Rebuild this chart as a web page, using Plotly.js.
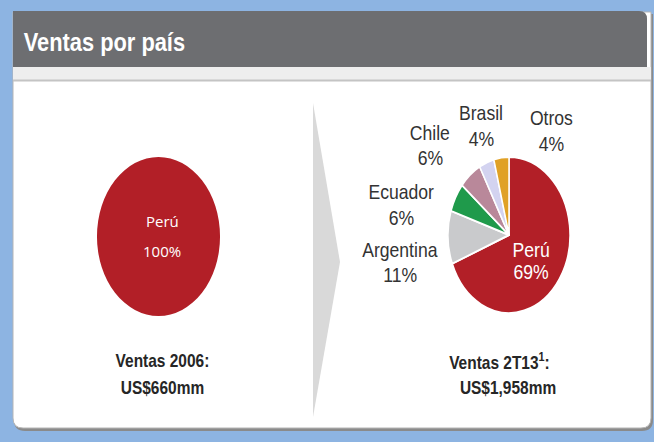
<!DOCTYPE html>
<html>
<head>
<meta charset="utf-8">
<script src="https://cdn.plot.ly/plotly-3.0.1.min.js"></script>
<style>html,body{margin:0;padding:0;background:#8db4e2;}#chart{width:654px;height:442px;}</style>
</head>
<body>
<div id="chart"></div>
<script>
// ---- data ----
const chartTitle = 'Ventas por país';
const countries2006 = ['Perú'];
const share2006 = [100];
const countries2T13 = ['Perú', 'Argentina', 'Ecuador', 'Chile', 'Brasil', 'Otros'];
const share2T13 = [69, 11, 6, 6, 4, 4];
const caption2006 = ['Ventas 2006:', 'US$660mm'];
const caption2T13 = ['Ventas 2T13<sup>1</sup>:', 'US$1,958mm'];

// ---- style ----
const sliceColors = ['#b21f27', '#c9cacc', '#1f9a4b', '#b9889a', '#d3d3f0', '#e0a126'];
const labelFont = 'Liberation Sans, Arial, sans-serif';
const W = 654, H = 442;
function px(x) { return x / W; }
function py(y) { return (H - y) / H; }

// label centre positions (pixels) for right pie labels: [x, yName, yPct]
const labelPos = {
  'Perú': [531, 250, 272],
  'Argentina': [400, 250, 275],
  'Ecuador': [401, 192, 218],
  'Chile': [430, 133, 158],
  'Brasil': [481, 113, 139],
  'Otros': [551, 118, 144]
};

const traces = [
  {
    type: 'pie', labels: countries2006, values: share2006, sort: false,
    direction: 'clockwise', rotation: 0,
    marker: { colors: [sliceColors[0]], line: { width: 0 } },
    textinfo: 'none', hoverinfo: 'none', showlegend: false,
    domain: { x: [px(97), px(220)], y: [py(298), py(175)] }
  },
  {
    type: 'pie', labels: countries2T13, values: share2T13, sort: false,
    direction: 'clockwise', rotation: 0,
    marker: { colors: sliceColors, line: { color: '#ffffff', width: 1.5 } },
    textinfo: 'none', hoverinfo: 'none', showlegend: false,
    domain: { x: [px(448), px(570)], y: [py(296), py(174)] }
  }
];

const shapes = [
  // panel shadow
  { type: 'path', path: 'M14,14 L653,14 L653,420 Q653,431 642,431 L25,431 Q14,431 14,420 Z',
    fillcolor: '#8a8a8a', line: { width: 0 }, layer: 'below' },
  // panel
  { type: 'path', path: 'M13,12 L651,12 L651,418 Q651,428 641,428 L23,428 Q13,428 13,418 Z',
    fillcolor: '#ffffff', line: { color: '#b5b5b5', width: 1 }, layer: 'below' },
  // header
  { type: 'path', path: 'M13,11 L639,11 Q647,11 647,19 L647,67 L13,67 Z',
    fillcolor: '#6d6e71', line: { width: 0 }, layer: 'below' },
  // light strip
  { type: 'rect', x0: 13, x1: 651, y0: 67, y1: 80, fillcolor: '#eeeeee', line: { width: 0 }, layer: 'below' },
  { type: 'line', x0: 13, x1: 651, y0: 80.5, y1: 80.5, line: { color: '#c4c4c4', width: 2 }, layer: 'below' },
  // chevron
  { type: 'path', path: 'M313,103 L340,262 L313,417 Z', fillcolor: '#d9d9d9', line: { width: 0 }, layer: 'below' }
];

const annotations = [];
const squeeze = []; // horizontal squeeze per annotation (source slide image is compressed)
function addAnn(a, sx) { annotations.push(a); squeeze.push(sx); }

addAnn({ x: 22, y: 42, xref: 'x', yref: 'y', xanchor: 'left', yanchor: 'middle', showarrow: false,
  text: '<b>' + chartTitle + '</b>', font: { family: labelFont, size: 26, color: '#ffffff' } }, 0.84);

// left pie label
addAnn({ x: 162, y: 221, xref: 'x', yref: 'y', showarrow: false, text: countries2006[0],
  font: { family: 'Open Sans, sans-serif', size: 15, color: '#ffffff' } }, 1);
addAnn({ x: 162, y: 251, xref: 'x', yref: 'y', showarrow: false, text: share2006[0] + '%',
  font: { family: 'Open Sans, sans-serif', size: 15, color: '#ffffff' } }, 1);

// right pie labels
countries2T13.forEach((c, i) => {
  const p = labelPos[c];
  const col = i === 0 ? '#ffffff' : '#333333';
  addAnn({ x: p[0], y: p[1], xref: 'x', yref: 'y', showarrow: false, text: c,
    font: { family: labelFont, size: 20, color: col } }, 0.88);
  addAnn({ x: p[0], y: p[2], xref: 'x', yref: 'y', showarrow: false, text: share2T13[i] + '%',
    font: { family: labelFont, size: 20, color: col } }, 0.88);
});

// captions
[[caption2006, 162, 162], [caption2T13, 499, 508]].forEach(([cap, x1, x2]) => {
  addAnn({ x: x1, y: 361, xref: 'x', yref: 'y', showarrow: false, text: '<b>' + cap[0] + '</b>',
    font: { family: labelFont, size: 18, color: '#262626' } }, 0.86);
  addAnn({ x: x2, y: 388, xref: 'x', yref: 'y', showarrow: false, text: '<b>' + cap[1] + '</b>',
    font: { family: labelFont, size: 18, color: '#262626' } }, 0.86);
});

const layout = {
  width: W, height: H,
  margin: { l: 0, r: 0, t: 0, b: 0 },
  paper_bgcolor: '#8db4e2', plot_bgcolor: 'rgba(0,0,0,0)',
  xaxis: { range: [0, W], visible: false, fixedrange: true },
  yaxis: { range: [H, 0], visible: false, fixedrange: true },
  shapes: shapes, annotations: annotations, showlegend: false
};

const gd = document.getElementById('chart');
Plotly.newPlot(gd, traces, layout, { staticPlot: true, displayModeBar: false }).then(() => {
  // stretch pies vertically into ellipses (as in the source slide)
  const stretch = [79.5 / 61.5, 78 / 61];
  gd.querySelectorAll('.pielayer .trace').forEach((g, i) => {
    const cd0 = gd.calcdata[i][0];
    const cx = cd0.cx, cy = cd0.cy, k = stretch[i];
    g.setAttribute('transform', 'translate(' + cx + ',' + cy + ') scale(1,' + k + ') translate(' + (-cx) + ',' + (-cy) + ')');
  });
  // horizontal squeeze of texts around their anchors
  annotations.forEach((a, i) => {
    const sx = squeeze[i];
    if (sx === 1) return;
    const g = gd.querySelector('.annotation[data-index="' + i + '"]');
    if (!g) return;
    g.setAttribute('transform', 'translate(' + a.x + ',0) scale(' + sx + ',1) translate(' + (-a.x) + ',0)');
  });
});
</script>
</body>
</html>
